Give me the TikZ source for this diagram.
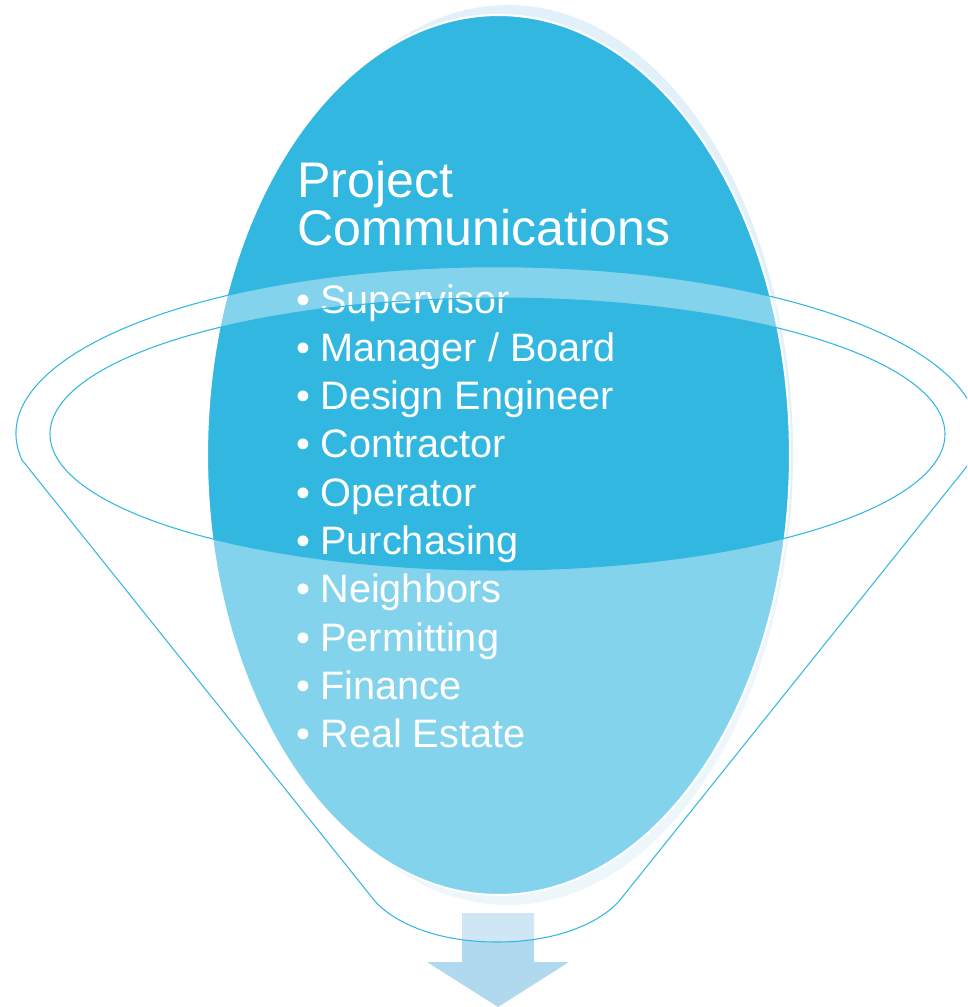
\documentclass[tikz,border=0pt]{standalone}
\usepackage{fontspec}
\setmainfont{Liberation Sans}
\definecolor{ovalblue}{HTML}{32B7E1}
\definecolor{shadowblue}{HTML}{E2F0F9}
\definecolor{arrowblue}{HTML}{B0D8EF}
\tikzset{
	headtext/.style={anchor=base west, inner sep=0pt, text=white, font=\fontsize{28.5}{34.2}\selectfont},
	listtext/.style={anchor=base west, inner sep=0pt, text=white, font=\fontsize{22.6}{27.1}\selectfont},
	funnelline/.style={draw=ovalblue, line width=0.6pt},
}
\begin{document}
\begin{tikzpicture}[x=0.02cm, y=-0.02cm]
		%%%%% START %%%%%
		\clip (0,0) rectangle (967,1007);
		\useasboundingbox (0,0) rectangle (967,1007);
		
		\fill[shadowblue] (508,455) ellipse [x radius=285, y radius=450];
		\draw[fill=ovalblue, draw=white, line width=1.2pt] (498.5,455) ellipse [x radius=291.5, y radius=440];
		
		\node[headtext] (head1) at (297,197) {Project};
		\node[headtext] (head2) at (297,245) {Communications};
		
		\foreach \txt [count=\i from 0] in {Supervisor, {Manager / Board}, Design Engineer, Contractor, Operator, Purchasing, Neighbors, Permitting, Finance, Real Estate}
		{
			\node[listtext] (bullet\i) at (296,{313+48.3*\i}) {\textbullet};
			\node[listtext] (item\i) at (320,{313+48.3*\i}) {\txt};
		}
		
		\fill[arrowblue] (462,913) -- (534,913) -- (534,962) -- (569,962) -- (498,1007) -- (427,962) -- (462,962) -- cycle;
		
		\draw[funnelline, fill=white, fill opacity=0.4, even odd rule] (22,460) arc[start angle=170.95, end angle=369.05, x radius=481, y radius=167] -- (620,900) .. controls (605,918) and (565,942) .. (497,942) .. controls (429,942) and (389,918) .. (374,900) -- cycle (497.5,434) ellipse [x radius=447.5, y radius=136];
		
		%%%%% END %%%%%
\end{tikzpicture}
\end{document}
